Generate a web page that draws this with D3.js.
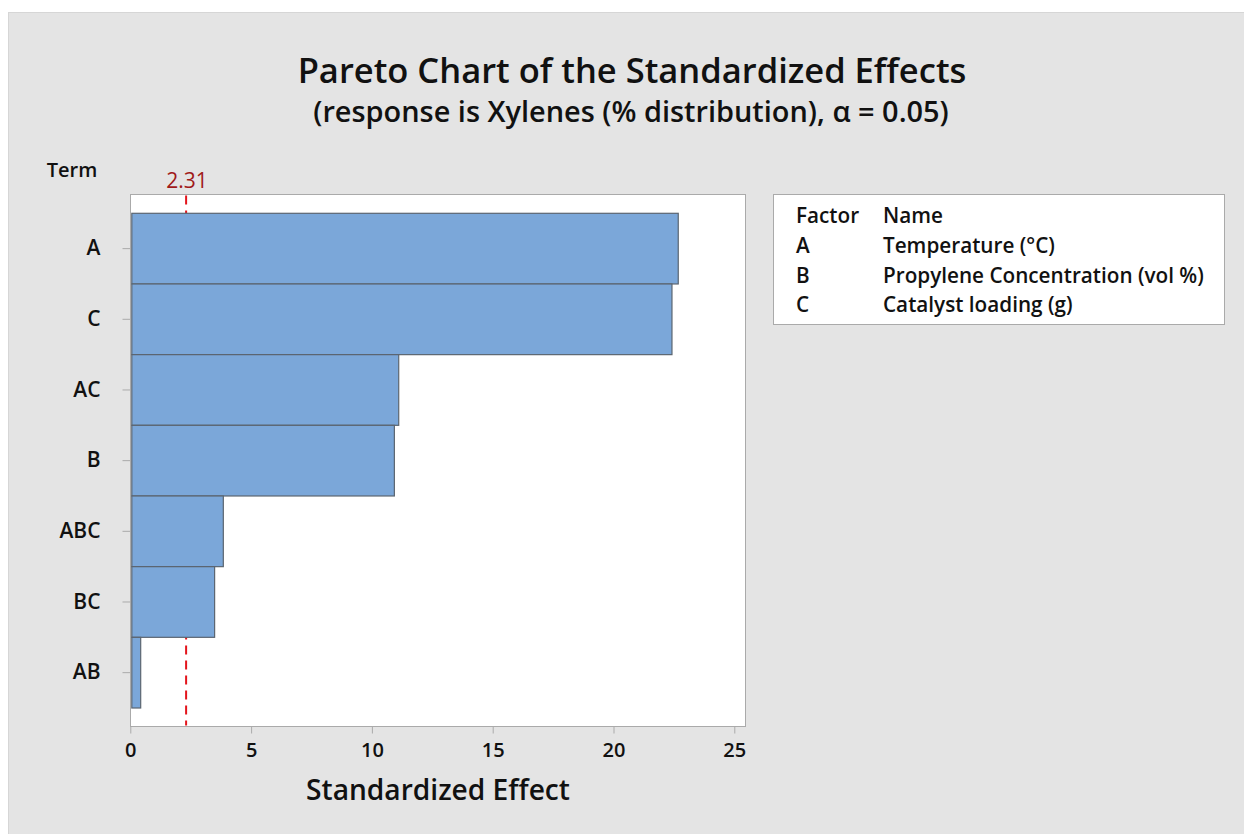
<!DOCTYPE html>
<html><head><meta charset="utf-8">
<script src="https://cdn.jsdelivr.net/npm/d3@7"></script>
<style>
html,body{margin:0;padding:0;background:#fff;}
text{font-family:"Open Sans","Noto Sans",sans-serif;}
</style></head>
<body>
<svg id="c" width="1244" height="834"></svg>
<script>
const terms = ["A","C","AC","B","ABC","BC","AB"];
const effects = [22.68, 22.42, 11.11, 10.93, 3.85, 3.49, 0.43];
const xTicks = [0,5,10,15,20,25];
const critical = 2.31;
const factorCodes = ["A","B","C"];
const factorNames = ["Temperature (°C)","Propylene Concentration (vol %)","Catalyst loading (g)"];
const titleText = "Pareto Chart of the Standardized Effects";
const subtitleText = "(response is Xylenes (% distribution), α = 0.05)";

const svg = d3.select("#c");
svg.append("rect").attr("x",8.5).attr("y",12.5).attr("width",1240).attr("height",830)
  .attr("fill","#e4e4e4").attr("stroke","#d6d6d6");

function fitText(sel, width){
  const w = sel.node().getComputedTextLength();
  const fs = parseFloat(sel.attr("font-size"));
  const nfs = fs*width/w;
  sel.attr("font-size", nfs);
  return nfs;
}

const t1 = svg.append("text").attr("x",632).attr("y",83).attr("text-anchor","middle")
  .attr("font-size",32).attr("font-weight",600).attr("fill","#111").text(titleText);
fitText(t1, 669);
const t2 = svg.append("text").attr("x",631).attr("y",122).attr("text-anchor","middle")
  .attr("font-size",23).attr("font-weight",600).attr("fill","#111").text(subtitleText);
fitText(t2, 636);

const L=130.5, R=745.5, T=194.5, B=726.5;
const x = d3.scaleLinear().domain([0,25]).range([130.3, 734.3]);
const y = d3.scaleBand().domain(terms).range([213.3, 708]).padding(0);

svg.append("rect").attr("x",L).attr("y",T).attr("width",R-L).attr("height",B-T)
  .attr("fill","#fff").attr("stroke","#aaaaaa");

// reference line
svg.append("line").attr("x1",x(critical)).attr("x2",x(critical)).attr("y1",T+1).attr("y2",B-1)
  .attr("stroke","#e3141b").attr("stroke-width",2).attr("stroke-dasharray","9,6");
svg.append("text").attr("x",x(critical)+1).attr("y",188).attr("text-anchor","middle")
  .attr("font-size",21).attr("fill","#a01a1a").text(critical.toFixed(2));

// bars
svg.append("g").selectAll("rect").data(terms).join("rect")
  .attr("x",x(0)+1.5).attr("y",d=>y(d))
  .attr("width",(d,i)=>x(effects[i])-x(0)-1.5).attr("height",y.bandwidth())
  .attr("fill","#7ba7d9").attr("stroke","#5b6570").attr("stroke-width",1.2);

// axes
const xAxis = svg.append("g").attr("transform",`translate(0,${B})`)
  .call(d3.axisBottom(x).tickValues(xTicks).tickSize(7).tickPadding(9).tickFormat(d3.format("d")));
xAxis.select(".domain").remove();
xAxis.selectAll("line").attr("stroke","#aaaaaa");
xAxis.selectAll("text").attr("font-size",20).attr("font-weight",600).attr("fill","#111").attr("font-family",null);

const yAxis = svg.append("g").attr("transform",`translate(${L},0)`)
  .call(d3.axisLeft(y).tickSize(8).tickPadding(22));
yAxis.select(".domain").remove();
yAxis.selectAll("line").attr("stroke","#aaaaaa");
yAxis.selectAll("text").attr("font-size",21).attr("font-weight",600).attr("fill","#111").attr("font-family",null);

svg.append("text").attr("x",72).attr("y",177).attr("text-anchor","middle")
  .attr("font-size",20).attr("font-weight",600).attr("fill","#111").text("Term");
const xt = svg.append("text").attr("x",438).attr("y",800).attr("text-anchor","middle")
  .attr("font-size",25).attr("font-weight",600).attr("fill","#111").text("Standardized Effect");
fitText(xt, 264);

// legend
svg.append("rect").attr("x",773.5).attr("y",194.5).attr("width",451).attr("height",130)
  .attr("fill","#fff").attr("stroke","#aaaaaa");
const lg = svg.append("g");
const probe = lg.append("text").attr("font-size",19).attr("font-weight",600).text(factorNames[1]);
const lfs = fitText(probe, 321);
probe.remove();
function lt(xp, yp, s){
  lg.append("text").attr("x",xp).attr("y",yp).attr("font-size",lfs).attr("font-weight",600).attr("fill","#111").text(s);
}
lt(796,223,"Factor");
lt(883,223,"Name");
factorCodes.forEach((c,i)=>{
  lt(796,253+i*29.5,c);
  lt(883,253+i*29.5,factorNames[i]);
});
</script>
</body></html>
